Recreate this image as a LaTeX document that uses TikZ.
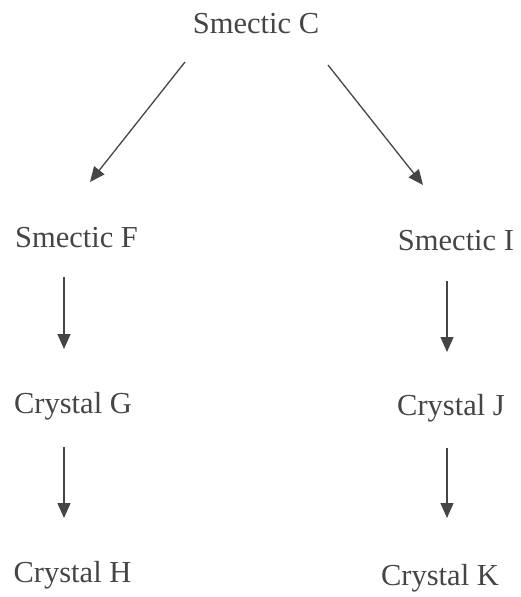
\documentclass[tikz,border=0pt]{standalone}
\usepackage{fontspec}
\setmainfont{Liberation Serif}
\usetikzlibrary{arrows.meta}
\definecolor{inkgray}{HTML}{454545}

\begin{document}
\begin{tikzpicture}[x=1pt, y=-1pt, >={Triangle[length=15pt, width=13pt]},
    phase/.style={anchor=base, inner sep=0pt, text=inkgray, font=\fontsize{30.5}{36}\selectfont},
    arr/.style={->, draw=inkgray, line width=1.3pt}]
        \useasboundingbox (0,0) rectangle (521,597);

        % Phases
        \node[phase] (C) at (256, 33) {Smectic C};
        \node[phase] (F) at (76.5, 247) {Smectic F};
        \node[phase] (I) at (456, 250) {Smectic I};
        \node[phase] (G) at (73, 413) {Crystal G};
        \node[phase] (J) at (451, 415) {Crystal J};
        \node[phase] (H) at (72.5, 582) {Crystal H};
        \node[phase] (K) at (440, 585) {Crystal K};

        % Transitions
        \draw[arr] ([shift={(-71,29)}]C.base) -- ([shift={(13.5,-65)}]F.base);
        \draw[arr] ([shift={(72,32)}]C.base) -- ([shift={(-33,-65)}]I.base);
        \draw[arr] ([shift={(-12.5,30)}]F.base) -- ([shift={(-9,-64)}]G.base);
        \draw[arr] ([shift={(-9,34)}]G.base) -- ([shift={(-8.5,-64)}]H.base);
        \draw[arr] ([shift={(-9,31)}]I.base) -- ([shift={(-4,-63)}]J.base);
        \draw[arr] ([shift={(-4,33)}]J.base) -- ([shift={(7,-67)}]K.base);
    \end{tikzpicture}
\end{document}
